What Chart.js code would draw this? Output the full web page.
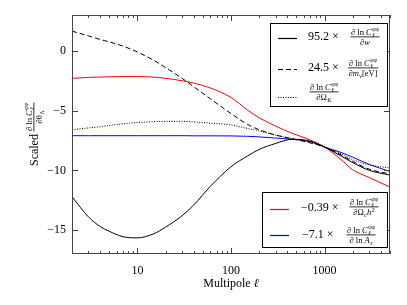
<!DOCTYPE html>
<html>
<head>
<meta charset="utf-8">
<script src="https://cdn.jsdelivr.net/npm/chart.js@4"></script>
<style>
  body { margin: 0; background: #fff; }
  canvas { display: block; }
</style>
</head>
<body>
<canvas id="c" width="407" height="305"></canvas>
<script>
// multipoles and scaled derivatives
const ell = [2, 3, 4, 5, 7, 10, 15, 20, 30, 40, 60, 100, 150, 200, 300, 450, 700, 1000, 1500, 2000, 3000, 5000];
const dW    = [-12.2, -13.9, -14.7, -15.1, -15.55, -15.65, -15.3, -14.75, -13.8, -12.9, -11.35, -9.7, -8.8, -8.25, -7.75, -7.4, -7.55, -8.05, -8.8, -9.35, -10.0, -10.4];
const dMnu  = [1.65, 1.25, 0.95, 0.75, 0.4, -0.1, -0.8, -1.4, -2.3, -3.0, -4.0, -5.25, -6.15, -6.6, -7.05, -7.35, -7.7, -8.05, -8.7, -9.25, -9.9, -10.3];
const dOk   = [-6.6, -6.45, -6.35, -6.25, -6.1, -6.0, -5.93, -5.9, -5.9, -5.95, -6.05, -6.2, -6.5, -6.7, -7.05, -7.35, -7.65, -8.05, -8.6, -9.1, -9.55, -9.8];
const dOch2 = [-2.3, -2.22, -2.19, -2.17, -2.15, -2.15, -2.2, -2.3, -2.5, -2.7, -3.1, -3.9, -4.95, -5.6, -6.3, -6.9, -7.45, -8.05, -9.1, -9.95, -10.6, -11.4];
const dAs   = [-7.1, -7.1, -7.1, -7.1, -7.1, -7.1, -7.1, -7.1, -7.1, -7.11, -7.11, -7.12, -7.15, -7.2, -7.3, -7.4, -7.6, -8.05, -8.5, -8.9, -9.5, -10.1];
const xMajor = [10, 100, 1000];
const yMajor = [0, -5, -10, -15];

const FONT = '"Liberation Serif", "DejaVu Serif", serif';

function pts(ys) {
  return ys.map((y, i) => ({ x: ell[i], y: y }));
}

// tiny rich-text helper: [text, style] with style n / i / sub / sup / ss ("sub|sup")
function rich(ctx, toks, x, y, size, draw) {
  let cx = x;
  const sm = size * 0.7;
  toks.forEach(([t, s]) => {
    if (s === 'n' || s === 'i') {
      ctx.font = (s === 'i' ? 'italic ' : '') + size + 'px ' + FONT;
      if (draw) ctx.fillText(t, cx, y);
      cx += ctx.measureText(t).width;
    } else if (s === 'sub' || s === 'sup') {
      ctx.font = (s === 'sub' && /[a-z]/.test(t) ? 'italic ' : '') + sm + 'px ' + FONT;
      const dy = s === 'sub' ? size * 0.28 : -size * 0.42;
      if (draw) ctx.fillText(t, cx + 0.5, y + dy);
      cx += ctx.measureText(t).width + 0.5;
    } else {
      const [sb, sp] = t.split('|');
      ctx.font = 'italic ' + sm + 'px ' + FONT;
      const w1 = ctx.measureText(sb).width;
      if (draw) ctx.fillText(sb, cx + 0.5, y + size * 0.32);
      ctx.font = sm + 'px ' + FONT;
      const w2 = ctx.measureText(sp).width;
      if (draw) ctx.fillText(sp, cx + 0.5, y - size * 0.45);
      cx += Math.max(w1, w2) + 0.5;
    }
  });
  return cx - x;
}

function frac(ctx, num, den, cx, y, size) {
  const wn = rich(ctx, num, 0, 0, size, false);
  const wd = rich(ctx, den, 0, 0, size, false);
  const w = Math.max(wn, wd);
  rich(ctx, num, cx - wn / 2, y - 2.5, size, true);
  rich(ctx, den, cx - wd / 2, y + size * 0.95, size, true);
  ctx.fillRect(cx - w / 2 - 0.5, y - 0.5, w + 1, 0.8);
}

const numTok = [['∂ ln ', 'n'], ['C', 'i'], ['ℓ|φφ', 'ss']];

function legLine(ctx, x1, x2, y, color, dash) {
  ctx.save();
  ctx.strokeStyle = color;
  ctx.lineWidth = 1.2;
  ctx.setLineDash(dash);
  ctx.beginPath();
  ctx.moveTo(x1, y);
  ctx.lineTo(x2, y);
  ctx.stroke();
  ctx.restore();
}

const decor = {
  id: 'decor',
  afterDraw(chart) {
    const ctx = chart.ctx;
    const a = chart.chartArea;
    const xs = chart.scales.x, ys = chart.scales.y;
    ctx.save();
    // frame
    ctx.strokeStyle = '#444';
    ctx.lineWidth = 1;
    ctx.strokeRect(a.left + 0.5, a.top + 0.5, a.right - a.left - 1, a.bottom - a.top - 1);
    // ticks, inward on all four sides
    ctx.beginPath();
    for (let d = 1; d <= 1000; d *= 10) {
      for (let k = 1; k <= 9; k++) {
        const v = d * k;
        if (v < 2 || v > 5000) continue;
        const px = Math.round(xs.getPixelForValue(v)) + 0.5;
        const len = k === 1 ? 6 : 3;
        ctx.moveTo(px, a.bottom); ctx.lineTo(px, a.bottom - len);
        ctx.moveTo(px, a.top); ctx.lineTo(px, a.top + len);
      }
    }
    yMajor.forEach(v => {
      const py = Math.round(ys.getPixelForValue(v)) + 0.5;
      ctx.moveTo(a.left, py); ctx.lineTo(a.left + 6, py);
      ctx.moveTo(a.right, py); ctx.lineTo(a.right - 6, py);
    });
    ctx.stroke();

    ctx.fillStyle = '#000';
    ctx.textBaseline = 'alphabetic';
    ctx.textAlign = 'left';

    // x title
    const t1 = 'Multipole ';
    ctx.font = '12px ' + FONT;
    const w1 = ctx.measureText(t1).width;
    ctx.font = 'italic 12px ' + FONT;
    const w2 = ctx.measureText('ℓ').width;
    const xc = (a.left + a.right) / 2 - (w1 + w2) / 2;
    ctx.font = '12px ' + FONT;
    ctx.fillText(t1, xc, 287);
    ctx.font = 'italic 12px ' + FONT;
    ctx.fillText('ℓ', xc + w1, 287);

    // y title, rotated
    ctx.save();
    ctx.translate(34, (a.top + a.bottom) / 2);
    ctx.rotate(-Math.PI / 2);
    ctx.font = '12px ' + FONT;
    const ws = ctx.measureText('Scaled ').width;
    const wf = rich(ctx, numTok, 0, 0, 8.5, false);
    const x0 = -(ws + wf) / 2;
    ctx.font = '12px ' + FONT;
    ctx.fillText('Scaled ', x0, 4);
    frac(ctx, numTok, [['∂θ', 'n'], ['A', 'sub']], x0 + ws + wf / 2, 0, 8.5);
    ctx.restore();

    // upper legend
    ctx.fillStyle = '#fff';
    ctx.fillRect(270, 23, 118, 84);
    ctx.strokeStyle = '#000';
    ctx.lineWidth = 1;
    ctx.strokeRect(270.5, 23.5, 117, 83);
    legLine(ctx, 278, 297, 38.5, '#000000', []);
    legLine(ctx, 278, 297, 69.5, '#000000', [5, 3]);
    legLine(ctx, 278, 297, 97.5, '#000000', [1, 1.5]);
    ctx.fillStyle = '#000';
    ctx.font = '12px ' + FONT;
    ctx.fillText('95.2 ×', 308, 40);
    ctx.fillText('24.5 ×', 308, 71);
    frac(ctx, numTok, [['∂', 'n'], ['w', 'i']], 365, 37, 8.5);
    frac(ctx, numTok, [['∂', 'n'], ['m', 'i'], ['ν', 'sub'], ['[eV]', 'n']], 363, 68, 8.5);
    frac(ctx, numTok, [['∂Ω', 'n'], ['K', 'sub']], 324, 92, 8.5);

    // lower legend
    ctx.fillStyle = '#fff';
    ctx.fillRect(262, 192, 126, 56);
    ctx.strokeStyle = '#000';
    ctx.strokeRect(262.5, 192.5, 125, 55);
    legLine(ctx, 270, 289, 209.5, '#ff0000', []);
    legLine(ctx, 270, 289, 235.5, '#0000ff', []);
    ctx.fillStyle = '#000';
    ctx.font = '12px ' + FONT;
    ctx.fillText('−0.39 ×', 301, 211);
    ctx.fillText('−7.1 ×', 302, 238);
    frac(ctx, numTok, [['∂Ω', 'n'], ['c', 'sub'], ['h', 'i'], ['2', 'sup']], 364, 207, 8.5);
    frac(ctx, numTok, [['∂ ln ', 'n'], ['A', 'i'], ['s', 'sub']], 361, 235, 8.5);
    ctx.restore();
  }
};

const ds = (label, ys, color, dash) => ({
  label: label,
  data: pts(ys),
  borderColor: color,
  borderWidth: 1,
  borderDash: dash,
  pointRadius: 0,
  fill: false,
  cubicInterpolationMode: 'monotone'
});

new Chart(document.getElementById('c').getContext('2d'), {
  type: 'line',
  data: {
    datasets: [
      ds('95.2 × ∂lnC/∂w', dW, '#000000', []),
      ds('24.5 × ∂lnC/∂mν[eV]', dMnu, '#000000', [5, 3]),
      ds('∂lnC/∂ΩK', dOk, '#000000', [1, 1.5]),
      ds('−0.39 × ∂lnC/∂Ωch²', dOch2, '#ff0000', []),
      ds('−7.1 × ∂lnC/∂lnAs', dAs, '#0000ff', [])
    ]
  },
  options: {
    responsive: false,
    animation: false,
    events: [],
    layout: { padding: { top: 15, right: 17, left: 0, bottom: 0 } },
    plugins: { legend: { display: false }, tooltip: { enabled: false } },
    scales: {
      x: {
        type: 'logarithmic',
        min: 2,
        max: 5000,
        grid: { display: false, drawTicks: false },
        border: { display: false },
        afterFit: s => { s.height = 51; },
        ticks: {
          autoSkip: false,
          maxRotation: 0,
          padding: 10,
          color: '#000',
          font: { family: FONT, size: 12 },
          callback: v => (xMajor.includes(v) ? String(v) : '')
        }
      },
      y: {
        min: -17,
        max: 3,
        grid: { display: false, drawTicks: false },
        border: { display: false },
        afterFit: s => { s.width = 72; },
        afterBuildTicks: s => { s.ticks = yMajor.map(v => ({ value: v })); },
        ticks: {
          padding: 6,
          color: '#000',
          font: { family: FONT, size: 12 },
          callback: v => String(v).replace('-', '−')
        }
      }
    }
  },
  plugins: [decor]
});
</script>
</body>
</html>
